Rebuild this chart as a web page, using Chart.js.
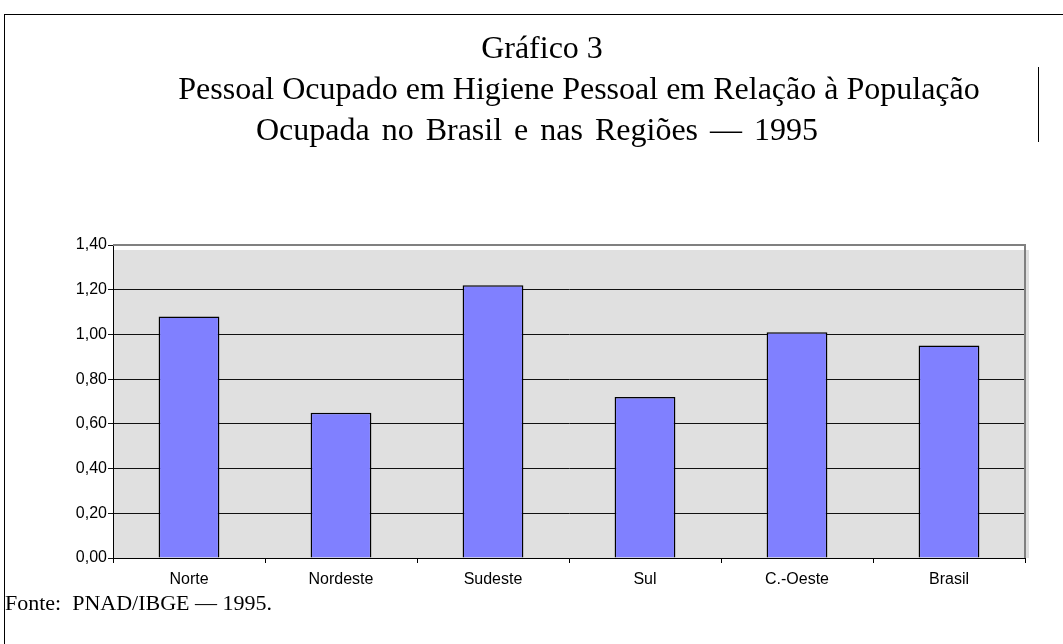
<!DOCTYPE html>
<html>
<head>
<meta charset="utf-8">
<script src="https://cdn.jsdelivr.net/npm/chart.js@4"></script>
<style>
  html, body { margin: 0; padding: 0; background: #fff; }
  #wrap { position: relative; width: 1063px; height: 644px; overflow: hidden; }
  #wrap canvas { position: absolute; left: 0; top: 0; }
  .t { position: absolute; font-family: "Liberation Serif", "Times New Roman", serif; color: #000; white-space: nowrap; line-height: 1; }
  .c { transform: translateX(-50%); }
  #frameTop { position: absolute; left: 4px; top: 14px; width: 1059px; height: 1px; background: #000; }
  #frameLeft { position: absolute; left: 4px; top: 14px; width: 1px; height: 630px; background: #000; }
  #mark { position: absolute; left: 1038px; top: 67px; width: 1px; height: 75px; background: #000; }
</style>
</head>
<body>
<div id="wrap">
  <canvas id="chart" width="1063" height="644"></canvas>
  <div id="frameTop"></div>
  <div id="frameLeft"></div>
  <div id="mark"></div>
  <div class="t c" style="left:542px; top:31px; font-size:32px;">Gráfico 3</div>
  <div class="t c" style="left:579px; top:72px; font-size:32px;">Pessoal Ocupado em Higiene Pessoal em Relação à População</div>
  <div class="t c" style="left:537px; top:113px; font-size:32px; word-spacing:4px;">Ocupada no Brasil e nas Regiões — 1995</div>
  <div class="t" style="left:5px; top:592px; font-size:22px;">Fonte:&nbsp; PNAD/IBGE — 1995.</div>
</div>
<script>
// data
const regioes = ['Norte', 'Nordeste', 'Sudeste', 'Sul', 'C.-Oeste', 'Brasil'];
const percentual = [1.08, 0.65, 1.22, 0.72, 1.01, 0.95];

// gray plot area with small shadow, and gray top/right border
const plotBg = {
    id: 'plotBg',
    beforeDraw(chart) {
        const a = chart.chartArea, c = chart.ctx;
        c.save();
        c.fillStyle = '#e0e0e0';
        c.fillRect(a.left, a.top + 5, a.right - a.left + 4, a.bottom - a.top - 5);
        c.restore();
    },
    afterDatasetsDraw(chart) {
        const a = chart.chartArea, c = chart.ctx;
        c.save();
        c.strokeStyle = '#808080';
        c.lineWidth = 2;
        c.beginPath();
        c.moveTo(a.left, a.top);
        c.lineTo(a.right, a.top);
        c.lineTo(a.right, a.bottom);
        c.stroke();
        c.restore();
    }
};

const ctx = document.getElementById('chart').getContext('2d');
new Chart(ctx, {
    type: 'bar',
    data: {
        labels: regioes,
        datasets: [{
            data: percentual,
            backgroundColor: '#8080ff',
            borderColor: '#000000',
            borderWidth: 1.5,
            categoryPercentage: 1,
            barPercentage: 0.4
        }]
    },
    options: {
        responsive: false,
        animation: false,
        layout: { padding: { top: 245, right: 38, left: 0, bottom: 0 } },
        plugins: { legend: { display: false }, tooltip: { enabled: false } },
        scales: {
            x: {
                grid: { drawOnChartArea: false, drawTicks: true, tickLength: 5, color: '#000' },
                border: { color: '#000', width: 1 },
                ticks: { color: '#000', padding: 7, font: { family: 'Arial, "Liberation Sans"', size: 16 } },
                afterFit(scale) { scale.height = 86; }
            },
            y: {
                min: 0,
                max: 1.4,
                ticks: {
                    stepSize: 0.2,
                    color: '#000',
                    padding: 1,
                    font: { family: 'Arial, "Liberation Sans"', size: 16 },
                    callback: v => v.toFixed(2).replace('.', ',')
                },
                grid: { color: '#111', lineWidth: 1, tickLength: 5 },
                border: { color: '#000', width: 1 },
                afterFit(scale) { scale.width = 113; }
            }
        }
    },
    plugins: [plotBg]
});
</script>
</body>
</html>
